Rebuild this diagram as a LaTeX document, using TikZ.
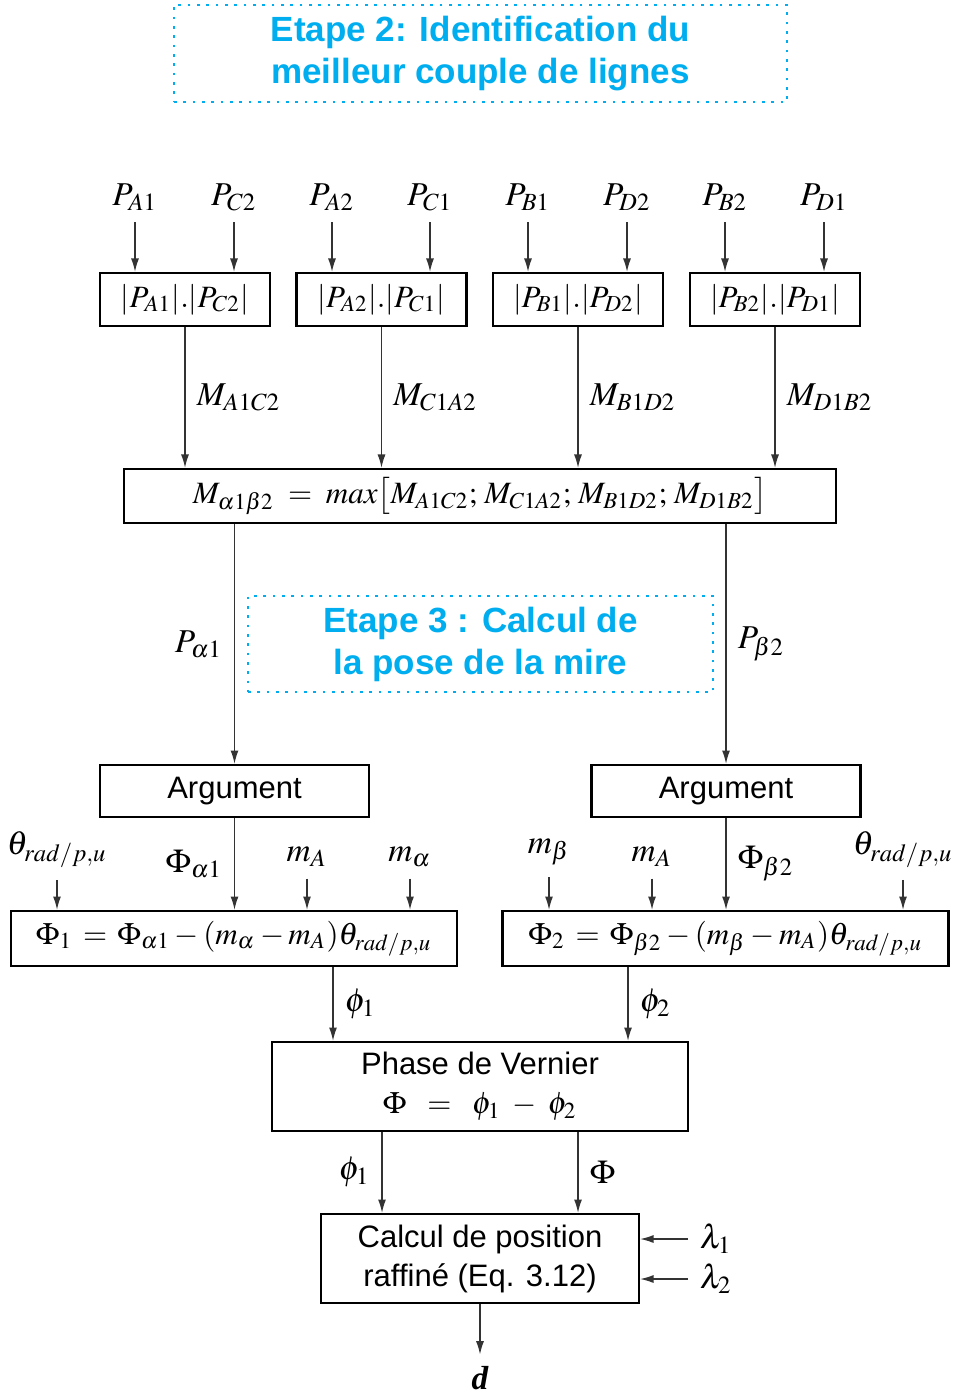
\documentclass[tikz,border=0pt]{standalone}
\usepackage{amsmath}
\usepackage{mathptmx}
\usepackage[no-math]{fontspec}
\setmainfont{Liberation Sans}
\newfontfamily\seriffam{Liberation Serif}
\usepackage{tikz}
\usetikzlibrary{arrows.meta,calc}
\usepackage{xcolor}
\definecolor{etape}{RGB}{0,174,239}

\begin{document}
\begin{tikzpicture}[x=0.3pt, y=-0.3pt, >={Latex[length=4pt,width=2.4pt]}, font=\fontsize{9.3}{11.7}\selectfont,
    box/.style={draw, line width=0.7pt, inner sep=0pt, align=center},
    flow/.style={->, line width=0.4pt, draw=black!80},
    lbl/.style={font=\fontsize{10}{12}\selectfont},
    etapebox/.style={draw=etape, dotted, line width=0.8pt, inner sep=0pt, align=center, text=etape,
      font=\fontsize{10.5}{12.6}\selectfont\bfseries}]
    \useasboundingbox (0,0) rectangle (952,1393);

    % etape 2
    \node[etapebox, minimum width=183.9pt, minimum height=29.1pt] (etape2) at (480.5,53.5)
      {Etape 2: Identification du\\ meilleur couple de lignes};

    % lignes d'entree
    \node[lbl] (pa1) at (135,197) {$P_{A1}$};
    \node[lbl] (pc2) at (234,197) {$P_{C2}$};
    \node[lbl] (pa2) at (332,197) {$P_{A2}$};
    \node[lbl] (pc1) at (430,197) {$P_{C1}$};
    \node[lbl] (pb1) at (528,197) {$P_{B1}$};
    \node[lbl] (pd2) at (627,197) {$P_{D2}$};
    \node[lbl] (pb2) at (725,197) {$P_{B2}$};
    \node[lbl] (pd1) at (824,197) {$P_{D1}$};

    \node[box, minimum width=51pt, minimum height=15.9pt] (ac) at (185,299.5) {$|P_{A1}|.|P_{C2}|$};
    \node[box, minimum width=51pt, minimum height=15.9pt] (ca) at (381.5,299.5) {$|P_{A2}|.|P_{C1}|$};
    \node[box, minimum width=51pt, minimum height=15.9pt] (bd) at (578,299.5) {$|P_{B1}|.|P_{D2}|$};
    \node[box, minimum width=51pt, minimum height=15.9pt] (db) at (775,299.5) {$|P_{B2}|.|P_{D1}|$};

    \draw[flow] (pa1.south) -- (pa1.south |- ac.north);
    \draw[flow] (pc2.south) -- (pc2.south |- ac.north);
    \draw[flow] (pa2.south) -- (pa2.south |- ca.north);
    \draw[flow] (pc1.south) -- (pc1.south |- ca.north);
    \draw[flow] (pb1.south) -- (pb1.south |- bd.north);
    \draw[flow] (pd2.south) -- (pd2.south |- bd.north);
    \draw[flow] (pb2.south) -- (pb2.south |- db.north);
    \draw[flow] (pd1.south) -- (pd1.south |- db.north);

    % maximum
    \node[box, minimum width=213.6pt, minimum height=16.2pt] (mx) at (480,496)
      {$M_{\alpha1\beta2} \;=\; max\big[M_{A1C2};\, M_{C1A2};\, M_{B1D2};\, M_{D1B2}\big]$};

    \draw[flow] (ac.south) -- node[lbl, right] {$M_{A1C2}$} (ac.south |- mx.north);
    \draw[flow] (ca.south) -- node[lbl, right] {$M_{C1A2}$} (ca.south |- mx.north);
    \draw[flow] (bd.south) -- node[lbl, right] {$M_{B1D2}$} (bd.south |- mx.north);
    \draw[flow] (db.south) -- node[lbl, right] {$M_{D1B2}$} (db.south |- mx.north);

    % etape 3
    \node[etapebox, minimum width=139.5pt, minimum height=28.8pt] (etape3) at (480.5,644)
      {Etape 3 : Calcul de\\ la pose de la mire};

    \node[box, minimum width=80.7pt, minimum height=15.6pt] (arg1) at (234.5,791) {Argument};
    \node[box, minimum width=80.7pt, minimum height=15.6pt] (arg2) at (726,791) {Argument};

    \draw[flow] (arg1.north |- mx.south) -- node[lbl, left] {$P_{\alpha1}$} (arg1.north);
    \draw[flow] (arg2.north |- mx.south) -- node[lbl, right] {$P_{\beta2}$} (arg2.north);

    \node[box, minimum width=133.8pt, minimum height=16.5pt] (eq1) at (234,938.5)
      {$\Phi_1 \,=\, \Phi_{\alpha1} - (m_\alpha - m_A)\theta_{rad/p,u}$};
    \node[box, minimum width=133.8pt, minimum height=16.5pt] (eq2) at (725.5,938.5)
      {$\Phi_2 \,=\, \Phi_{\beta2} - (m_\beta - m_A)\theta_{rad/p,u}$};

    \draw[flow] (arg1.south) -- node[lbl, left] {$\Phi_{\alpha1}$} (arg1.south |- eq1.north);
    \draw[flow] (arg2.south) -- node[lbl, right] {$\Phi_{\beta2}$} (arg2.south |- eq2.north);

    \node[lbl] (th1) at (57,850) {$\theta_{rad/p,u}$};
    \node[lbl] (ma1) at (307,857) {$m_A$};
    \node[lbl] (mal) at (410,857) {$m_\alpha$};
    \node[lbl] (mbe) at (549,852) {$m_\beta$};
    \node[lbl] (ma2) at (652,857) {$m_A$};
    \node[lbl] (th2) at (903,850) {$\theta_{rad/p,u}$};

    \draw[flow] (th1.south) -- (th1.south |- eq1.north);
    \draw[flow] (ma1.south) -- (ma1.south |- eq1.north);
    \draw[flow] (mal.south) -- (mal.south |- eq1.north);
    \draw[flow] (mbe.south) -- (mbe.south |- eq2.north);
    \draw[flow] (ma2.south) -- (ma2.south |- eq2.north);
    \draw[flow] (th2.south) -- (th2.south |- eq2.north);

    % vernier
    \node[box, minimum width=124.8pt, minimum height=26.7pt] (vern) at (480,1086.5)
      {Phase de Vernier\\ $\Phi \;\;=\;\; \phi_1 \;-\; \phi_2$};

    \coordinate (phiA) at ($(eq1.south)+(99,0)$);
    \coordinate (phiB) at ($(eq2.south)+(-97.5,0)$);
    \draw[flow] (phiA) -- node[lbl, right] {$\phi_1$} (phiA |- vern.north);
    \draw[flow] (phiB) -- node[lbl, right] {$\phi_2$} (phiB |- vern.north);

    % position
    \node[box, minimum width=95.4pt, minimum height=26.7pt] (calc) at (480,1258.5)
      {Calcul de position\\ raffiné (Eq. 3.12)};

    \coordinate (inA) at ($(calc.north)+(-98,0)$);
    \coordinate (inB) at ($(calc.north)+(98,0)$);
    \draw[flow] (inA |- vern.south) -- node[lbl, left] {$\phi_1$} (inA);
    \draw[flow] (inB |- vern.south) -- node[lbl, right] {$\Phi$} (inB);

    \node[lbl] (lam1) at (716,1239) {$\lambda_1$};
    \node[lbl] (lam2) at (716,1279) {$\lambda_2$};
    \draw[flow] (lam1.west) -- (lam1.west -| calc.east);
    \draw[flow] (lam2.west) -- (lam2.west -| calc.east);

    \node[lbl] (dist) at (480,1378) {\seriffam\bfseries\itshape d};
    \draw[flow] (calc.south) -- (dist.north);
  \end{tikzpicture}
\end{document}
